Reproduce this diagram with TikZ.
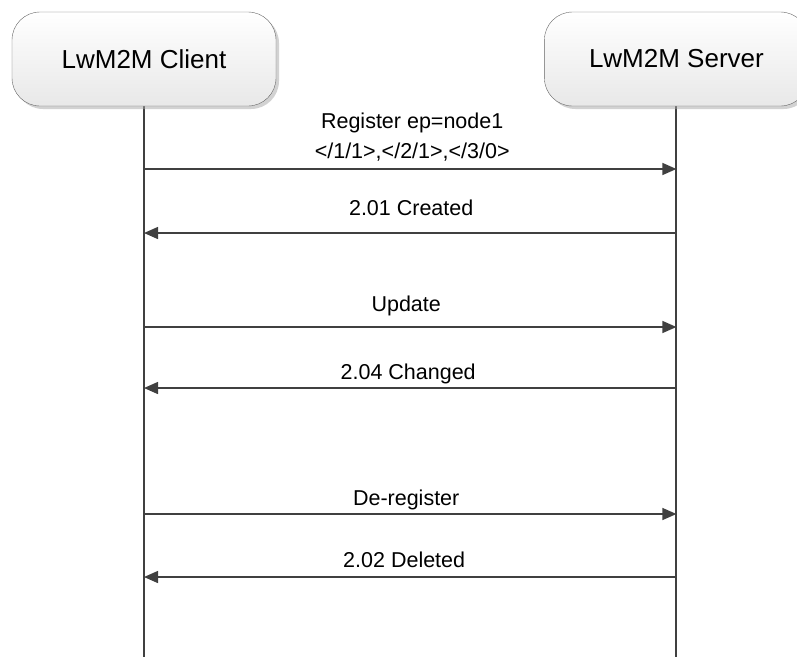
\documentclass[tikz,border=0pt]{standalone}
\usepackage{fontspec}
\setmainfont{Liberation Sans}
\usetikzlibrary{arrows.meta,positioning,shadows}

\begin{document}
\begin{tikzpicture}[x=1pt,y=-1pt,
      mybox/.style={
         rectangle,
         rounded corners=28pt,
         draw=black!60,
         top color=white,
         bottom color=black!9,
         drop shadow={shadow xshift=3pt,shadow yshift=-3pt,fill=black!35,opacity=0.5},
         minimum width=264pt,
         minimum height=94pt,
         font=\fontsize{26}{30}\selectfont},
      myline/.style={draw=black!75,line width=1.4pt},
      myarrow/.style={myline,-{Triangle[length=14pt,width=12pt]}},
      mylabel/.style={font=\fontsize{21.5}{25}\selectfont,inner sep=0pt,anchor=base},
      node distance=0pt and 268pt
      ]
      \useasboundingbox (0,0) rectangle (797,657);
      \coordinate (end) at (0,657);

      \draw[myline] (144,106) -- (144,657);
      \draw[myline] (676,106) -- (676,657);

      \node[mybox] (client) at (144,59) {LwM2M Client};
      \node[mybox,right=of client] (server) {LwM2M Server};

      % register has two lines of text
      \draw [myarrow] (client |- 0,169) --
         node[mylabel,xshift=2pt,yshift=41pt] {Register ep=node1}
         node[mylabel,xshift=2pt,yshift=11pt] {</1/1>,</2/1>,</3/0>}
         (server |- 0,169);

    \foreach \i/\j/\y/\b/\dx/\txt in {% from/to/y/gap/shift/text
      server/client/233/18/1/{2.01 Created},
      client/server/327/16/-4/{Update},
      server/client/388/9/-2/{2.04 Changed},
      client/server/514/9/-4/{De-register},
      server/client/577/10/-6/{2.02 Deleted}}
       \draw [myarrow] (\i |- 0,\y) -- node[mylabel,xshift=\dx pt,yshift=\b pt] {\txt} (\j |- 0,\y);

\end{tikzpicture}
\end{document}
